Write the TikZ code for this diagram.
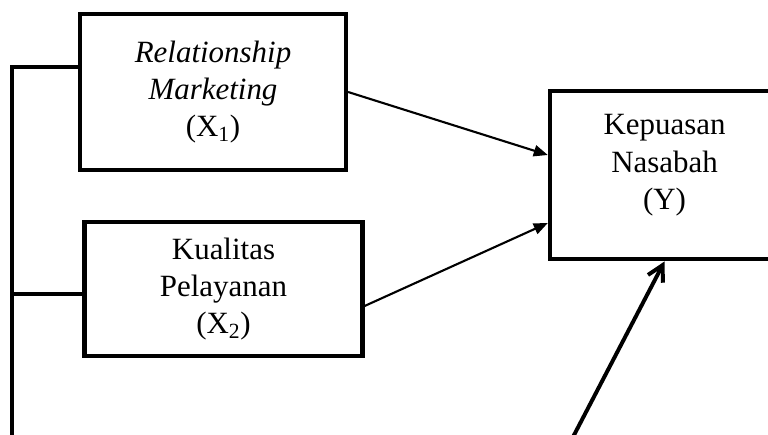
\documentclass[tikz,border=0pt]{standalone}
\usepackage{fontspec}
\setmainfont{Liberation Serif}
\usepackage{tikz}
\usetikzlibrary{positioning, arrows.meta, calc}

\begin{document}
\begin{tikzpicture}[
  x=0.025cm, y=-0.025cm,
  varbox/.style={rectangle, draw=black, line width=3.2pt,
                 align=center, inner sep=2pt,
                 font=\fontsize{22}{26.5}\selectfont},
  bus/.style={line width=2.4pt, draw=black},
  arr/.style={-{Triangle[length=10pt, width=8pt]}, line width=1.5pt, draw=black},
  errarr/.style={-{Straight Barb[length=11pt, width=12pt]}, line width=2.8pt, draw=black}
]

\useasboundingbox (0,0) rectangle (768,434);
\clip (0,0) rectangle (768,434);

% Variables
\node[varbox, minimum width=6.64cm, minimum height=3.89cm] (relMkt) at (213, 92)
    {\textit{Relationship}\\\textit{Marketing}\\(X\textsubscript{1})};
\node[varbox, minimum width=6.95cm, minimum height=3.34cm] (kualPel) at (223.5, 289)
    {Kualitas\\Pelayanan\\(X\textsubscript{2})};
\node[varbox, minimum width=5.72cm, minimum height=4.21cm] (kepNas) at (664.5, 175)
    {Kepuasan\\Nasabah\\(Y)\\[-8pt]\mbox{}};

% Free ends (outside the frame)
\coordinate (busTop) at (12, 67);
\coordinate (busEnd) at (12, 460);
\coordinate (errTerm) at (561, 460);

% Correlation bus on the left
\draw[bus] (relMkt.west |- busTop) -- (busTop) -- (busEnd);
\draw[bus] ([yshift=-0.125cm]kualPel.west) -- ([yshift=-0.125cm]kualPel.west -| busTop);

% Arrows
\draw[arr] (relMkt.east) -- ([yshift=0.5cm]kepNas.west);
\draw[arr] ([yshift=-0.45cm, xshift=-0.06cm]kualPel.east) -- ([yshift=-1.2cm]kepNas.west);
\draw[errarr] (errTerm) -- (kepNas.south);

\end{tikzpicture}
\end{document}
